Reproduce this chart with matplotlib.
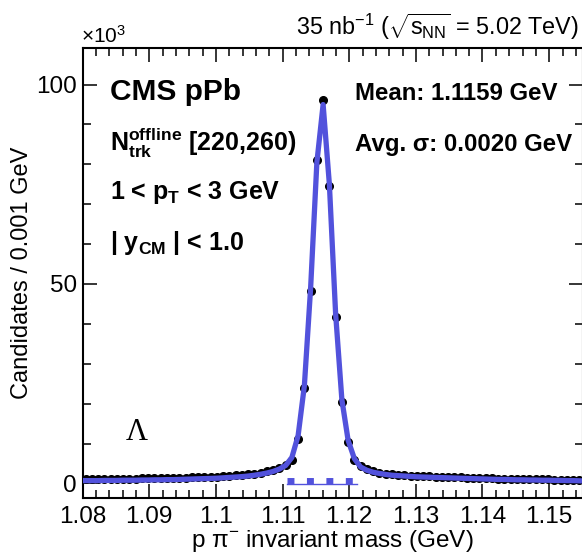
import matplotlib
matplotlib.use("Agg")
import matplotlib.pyplot as plt
import numpy as np

plt.rcParams['font.family'] = ['Liberation Sans', 'DejaVu Sans']
plt.rcParams['mathtext.fontset'] = 'custom'
plt.rcParams['mathtext.rm'] = 'Liberation Sans'
plt.rcParams['mathtext.it'] = 'Liberation Sans'
plt.rcParams['mathtext.bf'] = 'Liberation Sans:bold'

# binning: 80 bins between 1.08 and 1.155 GeV
edges = np.linspace(1.08, 1.155, 81)
mass = 0.5 * (edges[1:] + edges[:-1])

# candidates per bin (x10^3)
counts = [1.1, 1.1, 1.1, 1.15, 1.15, 1.15, 1.2, 1.2, 1.2, 1.25,
          1.25, 1.3, 1.3, 1.35, 1.35, 1.4, 1.45, 1.5, 1.55, 1.6,
          1.65, 1.7, 1.8, 1.9, 2.0, 2.1, 2.25, 2.45, 2.7, 3.0,
          3.3, 3.9, 4.7, 5.95, 11.1, 23.8, 48.3, 81.2, 96.2, 74.6,
          41.8, 20.4, 10.4, 5.8, 4.3, 3.5, 3.0, 2.7, 2.45, 2.25,
          2.15, 2.05, 1.95, 1.85, 1.8, 1.75, 1.7, 1.65, 1.6, 1.55,
          1.5, 1.45, 1.4, 1.35, 1.3, 1.25, 1.2, 1.2, 1.15, 1.1,
          1.1, 1.05, 1.05, 1.0, 1.0, 0.95, 0.95, 0.9, 0.9, 0.9]

# total fit at bin centres (x10^3)
fit = [0.7, 0.7, 0.7, 0.75, 0.75, 0.75, 0.8, 0.8, 0.8, 0.85,
       0.85, 0.9, 0.9, 0.95, 0.95, 1.0, 1.05, 1.1, 1.15, 1.2,
       1.25, 1.3, 1.4, 1.5, 1.6, 1.7, 1.85, 2.05, 2.3, 2.6,
       3.0, 3.6, 4.5, 6.5, 12.0, 24.5, 49.0, 80.5, 95.0, 75.0,
       42.5, 21.0, 10.8, 6.2, 4.1, 3.3, 2.8, 2.5, 2.25, 2.05,
       1.95, 1.85, 1.75, 1.65, 1.6, 1.55, 1.5, 1.45, 1.4, 1.35,
       1.3, 1.25, 1.2, 1.15, 1.1, 1.05, 1.0, 1.0, 0.95, 0.9,
       0.9, 0.85, 0.85, 0.8, 0.8, 0.75, 0.75, 0.7, 0.7, 0.65]

# background component under the peak (x10^3)
bkg_x = [1.1107, 1.1212]
bkg_y = [0.6, 0.6]

blue = '#5252dc'

fig = plt.figure(figsize=(5.82, 5.57), dpi=100)
ax = fig.add_axes([82.5 / 582, 59 / 557, 500 / 582, 450.5 / 557])

ax.plot(mass, counts, 'o', color='black', ms=5.5, zorder=2)
ax.plot(bkg_x, [v - 0.75 for v in bkg_y], color=blue, lw=1.0, zorder=3)
ax.plot(bkg_x, bkg_y, color=blue, lw=5, ls=(0, (1.0, 1.8)), zorder=3,
        solid_capstyle='butt')
ax.plot(mass, fit, color=blue, lw=3.8, zorder=4)

ax.set_xlim(1.08, 1.155)
ax.set_ylim(-3.66, 109.3)
ax.set_xticks([1.08, 1.09, 1.1, 1.11, 1.12, 1.13, 1.14, 1.15])
ax.set_xticklabels(['1.08', '1.09', '1.1', '1.11', '1.12', '1.13', '1.14', '1.15'])
ax.set_xticks(np.arange(1.08, 1.1551, 0.002), minor=True)
ax.set_yticks([0, 50, 100])
ax.set_yticks(np.arange(0, 110, 10), minor=True)

ax.tick_params(which='both', direction='in', top=True, right=True,
               width=1.1, labelsize=17.5)
ax.tick_params(which='major', length=10)
ax.tick_params(which='minor', length=5.5)
ax.tick_params(axis='x', pad=6)
ax.tick_params(axis='y', pad=4)
for s in ax.spines.values():
    s.set_linewidth(1.5)

ax.set_xlabel('p π$^{-}$ invariant mass (GeV)', fontsize=17.5, labelpad=0)
ax.set_ylabel('Candidates / 0.001 GeV', fontsize=17, labelpad=2)

def fx(px):
    return px / 582

def fy(py):
    return 1 - py / 557

fig.text(fx(81), fy(47), '×10$^{3}$', fontsize=15, ha='left', va='bottom')
fig.text(fx(579), fy(35), '35 nb$^{-1}$ ($\\sqrt{s_{NN}}$ = 5.02 TeV)',
         fontsize=16.8, ha='right', va='baseline')

bold = dict(fontweight='bold', ha='left', va='center')
fig.text(fx(110), fy(92), 'CMS pPb', fontsize=21.5, **bold)
fig.text(fx(110), fy(143), '$\\mathbf{N_{trk}^{offline}}$ [220,260)', fontsize=18, **bold)
fig.text(fx(110), fy(193), '1 < $\\mathbf{p_{T}}$ < 3 GeV', fontsize=18, **bold)
fig.text(fx(110), fy(243), '| $\\mathbf{y_{CM}}$ | < 1.0', fontsize=18, **bold)
fig.text(fx(355), fy(93), 'Mean: 1.1159 GeV', fontsize=17.3, **bold)
fig.text(fx(355), fy(145), 'Avg. σ: 0.0020 GeV', fontsize=17.3, **bold)
fig.text(fx(137), fy(432), 'Λ', fontsize=22, family='Liberation Serif',
         ha='center', va='center')

fig.savefig('out.png', dpi=100)
